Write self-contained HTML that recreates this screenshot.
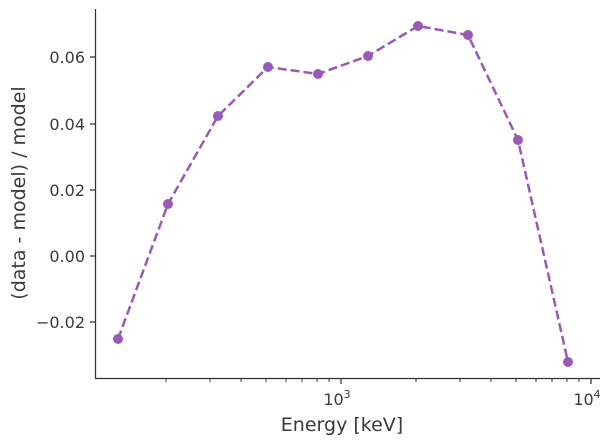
<!DOCTYPE html>
<html><head><meta charset="utf-8"><style>body{margin:0;background:#fff}</style></head><body>
<svg width="615" height="443" viewBox="0 0 615 443" xmlns="http://www.w3.org/2000/svg" font-family="DejaVu Sans, sans-serif" fill="#3a3a3a">
<g stroke="#333" stroke-width="1.25" fill="none">
<line x1="95.5" y1="9" x2="95.5" y2="378.5"/>
<line x1="95" y1="378.5" x2="600" y2="378.5"/>
<line x1="90" y1="57" x2="95.5" y2="57"/>
<line x1="90" y1="124" x2="95.5" y2="124"/>
<line x1="90" y1="190" x2="95.5" y2="190"/>
<line x1="90" y1="256" x2="95.5" y2="256"/>
<line x1="90" y1="322" x2="95.5" y2="322"/>
<line x1="341" y1="378.5" x2="341" y2="384"/>
<line x1="591" y1="378.5" x2="591" y2="384"/>
</g>
<g stroke="#333" stroke-width="1" fill="none">
<line x1="166" y1="378.5" x2="166" y2="382"/><line x1="210" y1="378.5" x2="210" y2="382"/>
<line x1="241" y1="378.5" x2="241" y2="382"/><line x1="266" y1="378.5" x2="266" y2="382"/>
<line x1="286" y1="378.5" x2="286" y2="382"/><line x1="302" y1="378.5" x2="302" y2="382"/>
<line x1="317" y1="378.5" x2="317" y2="382"/><line x1="329" y1="378.5" x2="329" y2="382"/>
<line x1="416" y1="378.5" x2="416" y2="382"/><line x1="460" y1="378.5" x2="460" y2="382"/>
<line x1="491" y1="378.5" x2="491" y2="382"/><line x1="516" y1="378.5" x2="516" y2="382"/>
<line x1="536" y1="378.5" x2="536" y2="382"/><line x1="552" y1="378.5" x2="552" y2="382"/>
<line x1="567" y1="378.5" x2="567" y2="382"/><line x1="579" y1="378.5" x2="579" y2="382"/>
</g>
<g font-size="16" text-anchor="end">
<text x="85" y="63">0.06</text>
<text x="85" y="130">0.04</text>
<text x="85" y="196">0.02</text>
<text x="85" y="262">0.00</text>
<text x="85" y="328">−0.02</text>
</g>
<g font-size="16" text-anchor="middle">
<text x="337" y="405">10<tspan font-size="11" dy="-7">3</tspan></text>
<text x="587" y="405">10<tspan font-size="11" dy="-7">4</tspan></text>
</g>
<text x="342" y="431" font-size="19" text-anchor="middle">Energy [keV]</text>
<text transform="translate(25,193) rotate(-90)" font-size="19" text-anchor="middle">(data - model) / model</text>
<polyline points="118,339 168,204 218,116 268,67 318,74 368,56 418,26 468,35 518,140 568,362" fill="none" stroke="#9b59b6" stroke-width="2.5" stroke-dasharray="9,4"/>
<g fill="#9b59b6">
<circle cx="118" cy="339" r="5"/><circle cx="168" cy="204" r="5"/><circle cx="218" cy="116" r="5"/>
<circle cx="268" cy="67" r="5"/><circle cx="318" cy="74" r="5"/><circle cx="368" cy="56" r="5"/>
<circle cx="418" cy="26" r="5"/><circle cx="468" cy="35" r="5"/><circle cx="518" cy="140" r="5"/>
<circle cx="568" cy="362" r="5"/>
</g>
</svg>
</body></html>
